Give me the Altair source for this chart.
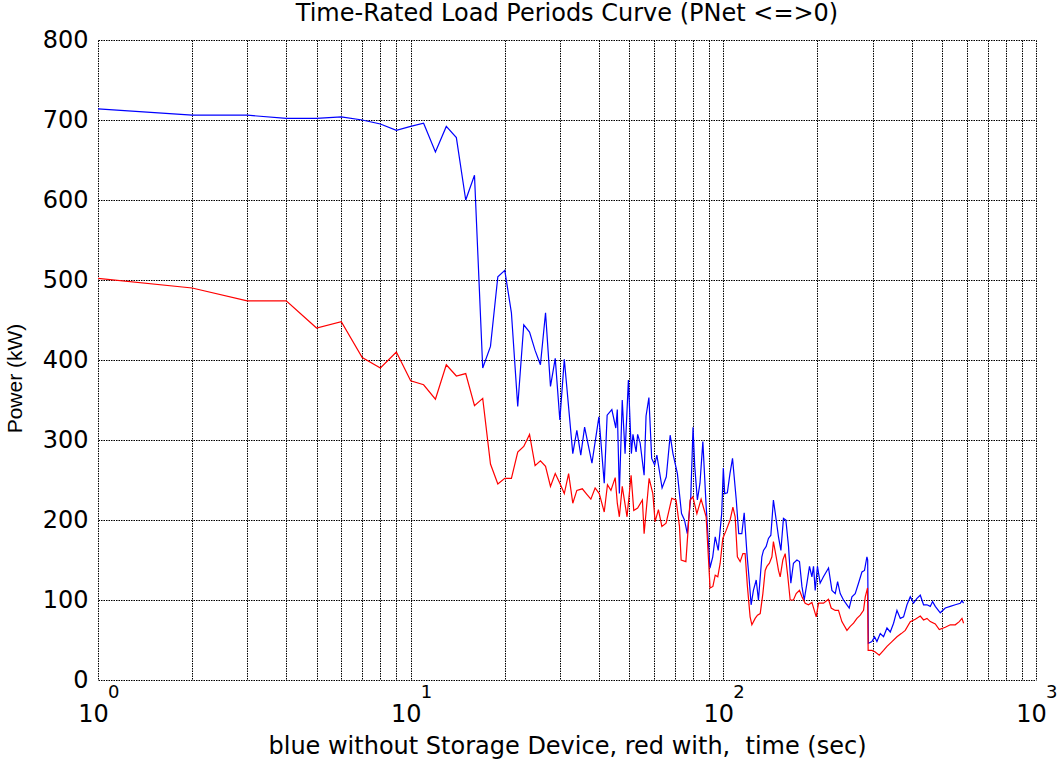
import altair as alt
import pandas as pd

# ---- data ----
blue_t = [1, 2, 3, 4, 5, 6, 7, 8, 9, 10, 11, 12, 13, 14, 15, 16, 17, 18, 19, 20, 21, 22, 23, 24, 25, 26, 27, 28, 29, 30, 31,
          33, 34, 35, 36, 38, 40, 41.6, 42.5, 44, 45.3, 45.8, 46.5, 47.5, 48.5, 49.7, 50.8, 51.4, 52.6, 53.2, 54.2,
          55.8, 56.6, 57.8, 59, 60.3, 61.3, 63.7, 65.7, 67.6, 69, 71.3, 73.5, 75.1, 76.7, 78.7, 80, 81, 82.6, 84.2, 86,
          88, 90.6, 92.5, 94.2, 96.3, 98.8, 100,
          101, 103, 105, 107, 110, 112, 114.6, 116.6, 119, 121, 122.7, 124.8, 127.4, 129.5, 132.8, 134.4, 137.1, 139.4,
          141.9, 144.6, 147.6, 150.1, 152.8, 155.7, 158.5, 161.6, 164.4, 167.6, 171.9, 175.2, 178.4, 181.4, 185.1,
          188.6, 192, 194.3, 196.7, 200,
          204, 209, 217, 222.5, 228, 232, 236.5, 242.3, 248.5, 252.7, 257.8, 264.1, 270.6, 277.5, 282.8, 287.9, 289.5,
          291, 298.7, 304.5, 309.9, 317.6, 325.4, 333.7, 341.9, 350.3, 359.2, 368.1, 377.1, 386.7, 396.2, 405.9, 416.2,
          426.5, 436.9, 448, 459.1, 466.9, 476.3, 494.1, 512.7, 531.9, 551.8, 572.6, 579.8, 586.7]
blue_v = [714, 706, 706, 702, 702, 704, 700, 695, 687, 692, 696, 660, 692, 678, 600, 631, 390, 417, 504, 512, 459, 342,
          444, 435, 412, 394, 459, 367, 402, 325, 401,
          283, 312, 281, 316, 271, 329, 246, 331, 338, 315, 338, 233, 350, 283, 375, 283, 307, 285, 307, 296,
          256, 330, 353, 277, 269, 281, 240, 254, 306, 283, 258, 208, 200, 183, 229, 316, 267, 225, 246, 298,
          221, 140, 154, 179, 162, 208, 265,
          233, 234, 258, 277, 225, 183, 183, 209, 158, 125, 94, 112, 125, 100, 154, 162, 167, 177,
          181, 225, 200, 179, 162, 202, 200, 167, 121, 146, 150, 148, 117, 100, 121,
          142, 129, 142, 112, 142,
          121, 129, 140, 112, 108, 123, 108, 100, 94, 90, 104, 108, 121, 135, 137, 154, 150,
          46, 48, 54, 48, 58, 54, 65, 60, 71, 87, 77, 79, 94, 104, 96, 102,
          106, 94, 94, 92, 98, 92, 84, 90, 92, 94, 96, 99, 96]

red_t = [1, 2, 3, 4, 5, 6, 7, 8, 9, 10, 11, 12, 13, 14, 15, 16, 17, 18, 19, 20, 21, 22, 23, 24, 25, 26, 27, 28, 29, 30, 31,
         32, 33, 34, 35.4, 36.6, 37.7, 38.9, 40.1, 41.6, 42.6, 43.7, 45.1, 45.8, 46.5, 47.5, 49.2, 50.7, 51.7, 53.2,
         55.1, 55.8, 57.9, 59.5, 60.5, 62, 63.6, 65.6, 68.4, 70.6, 72.4, 73.3, 75.9, 78.3, 79.9, 82.3, 84.9, 88.1,
         90.7, 92.6, 94.2, 96, 97.7, 99.6,
         102.1, 105.1, 107.3, 109.1, 110.9, 113.2, 115.5, 117.4, 119.4, 121.8, 123.4, 126.4, 128.6, 131.2, 133.8,
         136.1, 137.8, 140.4, 143, 144.6, 147.6, 150.1, 152, 155, 157.7, 160.8, 163.6, 167.6, 171, 175.2, 178.4,
         182.7, 187.2, 192, 198.2, 201.5,
         209.1, 216.9, 221.3, 227.9, 233.5, 239.4, 248.5, 254.6, 260.9, 267.5, 274.1, 280.8, 284.4, 289.2, 290.5,
         298.7, 306.1, 315.2, 325.4, 333.7, 346.2, 359.2, 370.7, 381.8, 396.2, 411.1, 426.5, 436.9, 448, 459.1,
         476.3, 490.5, 512.7, 531.9, 551.8, 568.4, 579.8, 586.7]
red_v = [502, 490, 474, 474, 440, 448, 403, 390, 410, 374, 369, 351, 394, 380, 383, 343, 352, 270, 245, 252, 252, 285,
         292, 307, 268, 274, 267, 242, 258, 246, 233,
         258, 221, 237, 239, 232, 226, 240, 233, 210, 244, 237, 253, 221, 204, 242, 204, 256, 212, 215,
         225, 183, 252, 233, 198, 213, 192, 196, 227, 225, 192, 150, 148, 225, 229, 208, 226, 204,
         115, 117, 131, 129, 146, 177,
         187, 200, 216, 204, 154, 148, 158, 158, 117, 79, 69, 77, 81, 83, 108,
         137, 142, 146, 154, 173, 154, 137, 129, 150, 158, 129, 100, 100, 108, 112, 104,
         96, 94, 97, 79, 96,
         96, 101, 90, 87, 87, 73, 62, 67, 71, 77, 81, 87, 104, 115, 37,
         37, 35, 31, 37, 42, 48, 54, 58, 62, 73, 76, 80, 75, 77, 73,
         70, 63, 66, 69, 69, 73, 77, 71]

x_grid_values = [1, 2, 3, 4, 5, 6, 7, 8, 9,
                 10, 20, 30, 40, 50, 60, 70, 80, 90,
                 100, 200, 300, 400, 500, 600, 700, 800, 900, 1000]
decade_values = [1, 10, 100, 1000]
decade_exponents = ["0", "1", "2", "3"]
y_tick_values = [0, 100, 200, 300, 400, 500, 600, 700, 800]

series_names = ["blue", "red"]
series_colors = ["#0000ff", "#ff0000"]

FONT = "DejaVu Sans"
GRID_DASH = [1.5, 1]

assert len(blue_t) == len(blue_v)
assert len(red_t) == len(red_v)

df = pd.concat([
    pd.DataFrame({"t": blue_t, "p": blue_v, "series": "blue"}),
    pd.DataFrame({"t": red_t, "p": red_v, "series": "red"}),
], ignore_index=True)
exp_df = pd.DataFrame({"t": decade_values, "e": decade_exponents})

x_scale = alt.Scale(type="log", domain=[1, 1000], nice=False)
y_scale = alt.Scale(domain=[0, 800], nice=False)

x_axis = alt.Axis(
    values=x_grid_values,
    labelExpr="indexof([1, 10, 100, 1000], datum.value) >= 0 ? '10' : ''",
    grid=True, gridColor="black", gridOpacity=1, gridDash=GRID_DASH, gridWidth=1,
    domain=False, ticks=False, tickSize=0,
    labelFont=FONT, labelFontSize=24, labelColor="black",
    labelBaseline="alphabetic", labelPadding=41, labelOffset=-5,
    labelOverlap=False, labelFlush=False,
    title="blue without Storage Device, red with,\u00a0 time (sec)",
    titleFont=FONT, titleFontSize=24, titleFontWeight="normal", titleColor="black",
    titleBaseline="alphabetic", titleY=73,
)
y_axis = alt.Axis(
    values=y_tick_values,
    grid=True, gridColor="black", gridOpacity=1, gridDash=GRID_DASH, gridWidth=1,
    domain=False, ticks=False, tickSize=0,
    labelFont=FONT, labelFontSize=24, labelColor="black", labelPadding=10,
    title="Power (kW)",
    titleFont="Liberation Sans", titleFontSize=21, titleFontWeight="normal", titleColor="black",
    titleAngle=270, titleAlign="center", titleBaseline="middle", titleX=-83, titleY=338,
)

lines = alt.Chart(df).mark_line(strokeWidth=1.2, clip=True).encode(
    x=alt.X("t:Q", scale=x_scale, axis=x_axis),
    y=alt.Y("p:Q", scale=y_scale, axis=y_axis),
    color=alt.Color("series:N", scale=alt.Scale(domain=series_names, range=series_colors), legend=None),
    detail="series:N",
)

exps = alt.Chart(exp_df).mark_text(
    font=FONT, fontSize=18, align="left", baseline="alphabetic", dx=10, dy=18, color="black"
).encode(
    x=alt.X("t:Q", scale=x_scale, axis=x_axis),
    y=alt.datum(0, scale=y_scale, axis=y_axis),
    text="e:N",
)

chart = alt.layer(lines, exps).properties(
    width=938,
    height=640,
    autosize=alt.AutoSizeParams(type="none"),
    padding={"left": 98, "top": 40, "right": 21, "bottom": 80},
    background="white",
    title=alt.TitleParams(
        text="Time-Rated Load Periods Curve (PNet <=>0)",
        font=FONT, fontSize=24, fontWeight="normal", color="black",
        anchor="middle", frame="group", baseline="alphabetic", offset=4, dy=21,
    ),
).configure_view(strokeWidth=0)

chart.save("out.html", embed_options={"renderer": "svg", "actions": False})
